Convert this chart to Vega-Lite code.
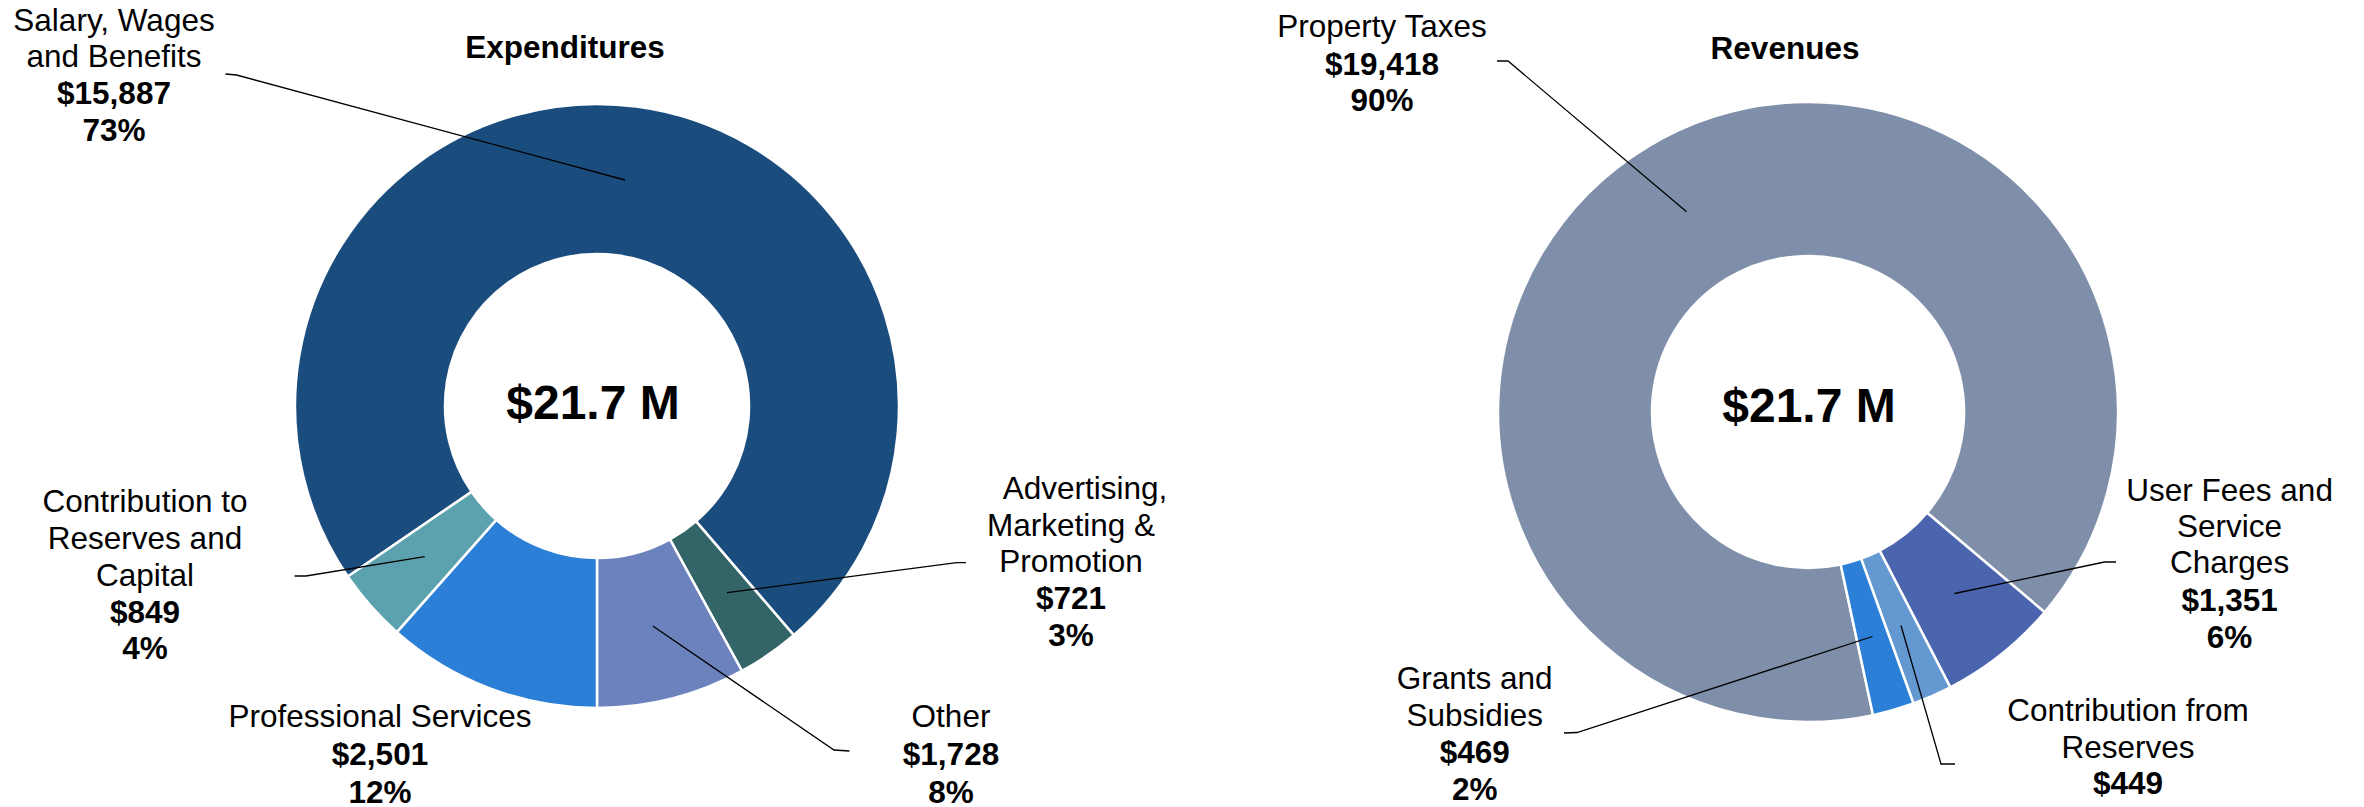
{
  "$schema": "https://vega.github.io/schema/vega-lite/v6.json",
  "background": "white",
  "padding": 0,
  "spacing": 0,
  "config": {"view": {"stroke": null}, "text": {"font": "Liberation Sans"}},
  "resolve": {"scale": {"color": "independent"}},
  "datasets": {
    "expenditures": [
      {"category": "Salary, Wages and Benefits", "amount": 15887, "seq": 1},
      {"category": "Advertising, Marketing & Promotion", "amount": 721, "seq": 2},
      {"category": "Other", "amount": 1728, "seq": 3},
      {"category": "Professional Services", "amount": 2501, "seq": 4},
      {"category": "Contribution to Reserves and Capital", "amount": 849, "seq": 5}
    ],
    "revenues": [
      {"category": "Property Taxes", "amount": 19418, "seq": 1},
      {"category": "User Fees and Service Charges", "amount": 1351, "seq": 2},
      {"category": "Contribution from Reserves", "amount": 449, "seq": 3},
      {"category": "Grants and Subsidies", "amount": 469, "seq": 4}
    ],
    "exp_labels": [
      {"text": "Expenditures", "kind": "title", "x": -32, "y": -357},
      {"text": "$21.7 M", "kind": "total", "x": -4, "y": -1},
      {"text": "Salary, Wages", "kind": "name", "x": -483, "y": -384},
      {"text": "and Benefits", "kind": "name", "x": -483, "y": -348.5},
      {"text": "$15,887", "kind": "value", "x": -483, "y": -310.6},
      {"text": "73%", "kind": "value", "x": -483, "y": -274},
      {"text": "Contribution to", "kind": "name", "x": -452, "y": 97},
      {"text": "Reserves and", "kind": "name", "x": -452, "y": 134},
      {"text": "Capital", "kind": "name", "x": -452, "y": 171},
      {"text": "$849", "kind": "value", "x": -452, "y": 207.5},
      {"text": "4%", "kind": "value", "x": -452, "y": 244},
      {"text": "Professional Services", "kind": "name", "x": -217, "y": 312},
      {"text": "$2,501", "kind": "value", "x": -217, "y": 350},
      {"text": "12%", "kind": "value", "x": -217, "y": 387.5},
      {"text": "Other", "kind": "name", "x": 354, "y": 312},
      {"text": "$1,728", "kind": "value", "x": 354, "y": 350},
      {"text": "8%", "kind": "value", "x": 354, "y": 387.5},
      {"text": "Advertising,", "kind": "name", "x": 488, "y": 84},
      {"text": "Marketing &", "kind": "name", "x": 474, "y": 120.7},
      {"text": "Promotion", "kind": "name", "x": 474, "y": 157.4},
      {"text": "$721", "kind": "value", "x": 474, "y": 194},
      {"text": "3%", "kind": "value", "x": 474, "y": 231}
    ],
    "exp_leaders": [
      {"leader": "Salary", "i": 1, "x": -371.6, "y": -332},
      {"leader": "Salary", "i": 2, "x": -360.4, "y": -331},
      {"leader": "Salary", "i": 3, "x": 28, "y": -226},
      {"leader": "Reserves", "i": 1, "x": -302.4, "y": 170},
      {"leader": "Reserves", "i": 2, "x": -291, "y": 170},
      {"leader": "Reserves", "i": 3, "x": -172.3, "y": 150.7},
      {"leader": "Other", "i": 1, "x": 55.8, "y": 220},
      {"leader": "Other", "i": 2, "x": 237, "y": 344},
      {"leader": "Other", "i": 3, "x": 252.5, "y": 345},
      {"leader": "Advertising", "i": 1, "x": 130, "y": 186.7},
      {"leader": "Advertising", "i": 2, "x": 359.6, "y": 156.7},
      {"leader": "Advertising", "i": 3, "x": 369, "y": 156.7}
    ],
    "rev_labels": [
      {"text": "Revenues", "kind": "title", "x": -23, "y": -362},
      {"text": "$21.7 M", "kind": "total", "x": 1, "y": -4},
      {"text": "Property Taxes", "kind": "name", "x": -426, "y": -384},
      {"text": "$19,418", "kind": "value", "x": -426, "y": -346.5},
      {"text": "90%", "kind": "value", "x": -426, "y": -310},
      {"text": "User Fees and", "kind": "name", "x": 421.6, "y": 80},
      {"text": "Service", "kind": "name", "x": 421.6, "y": 115.5},
      {"text": "Charges", "kind": "name", "x": 421.6, "y": 152},
      {"text": "$1,351", "kind": "value", "x": 421.6, "y": 189.5},
      {"text": "6%", "kind": "value", "x": 421.6, "y": 226.5},
      {"text": "Grants and", "kind": "name", "x": -333.3, "y": 268},
      {"text": "Subsidies", "kind": "name", "x": -333.3, "y": 305},
      {"text": "$469", "kind": "value", "x": -333.3, "y": 342},
      {"text": "2%", "kind": "value", "x": -333.3, "y": 379},
      {"text": "Contribution from", "kind": "name", "x": 320, "y": 300},
      {"text": "Reserves", "kind": "name", "x": 320, "y": 336.5},
      {"text": "$449", "kind": "value", "x": 320, "y": 373}
    ],
    "rev_leaders": [
      {"leader": "Property", "i": 1, "x": -311, "y": -351},
      {"leader": "Property", "i": 2, "x": -300, "y": -351},
      {"leader": "Property", "i": 3, "x": -121.4, "y": -200.2},
      {"leader": "UserFees", "i": 1, "x": 308, "y": 150},
      {"leader": "UserFees", "i": 2, "x": 296.5, "y": 150},
      {"leader": "UserFees", "i": 3, "x": 146.5, "y": 181.5},
      {"leader": "Grants", "i": 1, "x": -244, "y": 321},
      {"leader": "Grants", "i": 2, "x": -231, "y": 320.5},
      {"leader": "Grants", "i": 3, "x": 64.5, "y": 224.5},
      {"leader": "Reserves", "i": 1, "x": 93, "y": 213.5},
      {"leader": "Reserves", "i": 2, "x": 133, "y": 352},
      {"leader": "Reserves", "i": 3, "x": 147, "y": 352}
    ]
  },
  "hconcat": [
    {
      "width": 1182,
      "height": 807,
      "layer": [
        {
          "data": {"name": "expenditures"},
          "mark": {"type": "arc", "outerRadius": 302, "innerRadius": 152, "stroke": "white", "strokeWidth": 2.5},
          "encoding": {
            "x": {"datum": 0, "type": "quantitative", "scale": {"domain": [-597, 585], "nice": false, "zero": false}, "axis": null},
            "y": {"datum": 0, "type": "quantitative", "scale": {"domain": [-406, 401], "nice": false, "zero": false, "reverse": true}, "axis": null},
            "theta": {"field": "amount", "type": "quantitative", "stack": true, "scale": {"range": [-2.17098, 4.11221]}},
            "order": {"field": "seq", "type": "quantitative"},
            "color": {
              "field": "category", "type": "nominal", "legend": null,
              "scale": {
                "domain": ["Salary, Wages and Benefits", "Advertising, Marketing & Promotion", "Other", "Professional Services", "Contribution to Reserves and Capital"],
                "range": ["#1b4c7e", "#336468", "#6b82bd", "#2b7fd6", "#5ba2ae"]
              }
            }
          }
        },
        {
          "data": {"name": "exp_leaders"},
          "mark": {"type": "line", "color": "black", "strokeWidth": 1.3},
          "encoding": {
            "x": {"field": "x", "type": "quantitative", "scale": {"domain": [-597, 585], "nice": false, "zero": false}, "axis": null},
            "y": {"field": "y", "type": "quantitative", "scale": {"domain": [-406, 401], "nice": false, "zero": false, "reverse": true}, "axis": null},
            "detail": {"field": "leader", "type": "nominal"},
            "order": {"field": "i", "type": "quantitative"}
          }
        },
        {
          "data": {"name": "exp_labels"},
          "transform": [{"filter": "datum.kind === 'name'"}],
          "mark": {"type": "text", "font": "Liberation Sans", "fontSize": 31.5, "align": "center", "baseline": "middle", "color": "black"},
          "encoding": {
            "x": {"field": "x", "type": "quantitative", "scale": {"domain": [-597, 585], "nice": false, "zero": false}, "axis": null},
            "y": {"field": "y", "type": "quantitative", "scale": {"domain": [-406, 401], "nice": false, "zero": false, "reverse": true}, "axis": null},
            "text": {"field": "text", "type": "nominal"}
          }
        },
        {
          "data": {"name": "exp_labels"},
          "transform": [{"filter": "datum.kind === 'value' || datum.kind === 'title'"}],
          "mark": {"type": "text", "font": "Liberation Sans", "fontSize": 31.5, "fontWeight": "bold", "align": "center", "baseline": "middle", "color": "black"},
          "encoding": {
            "x": {"field": "x", "type": "quantitative", "scale": {"domain": [-597, 585], "nice": false, "zero": false}, "axis": null},
            "y": {"field": "y", "type": "quantitative", "scale": {"domain": [-406, 401], "nice": false, "zero": false, "reverse": true}, "axis": null},
            "text": {"field": "text", "type": "nominal"}
          }
        },
        {
          "data": {"name": "exp_labels"},
          "transform": [{"filter": "datum.kind === 'total'"}],
          "mark": {"type": "text", "font": "Liberation Sans", "fontSize": 48, "fontWeight": "bold", "align": "center", "baseline": "middle", "color": "black"},
          "encoding": {
            "x": {"field": "x", "type": "quantitative", "scale": {"domain": [-597, 585], "nice": false, "zero": false}, "axis": null},
            "y": {"field": "y", "type": "quantitative", "scale": {"domain": [-406, 401], "nice": false, "zero": false, "reverse": true}, "axis": null},
            "text": {"field": "text", "type": "nominal"}
          }
        }
      ]
    },
    {
      "width": 1182,
      "height": 807,
      "layer": [
        {
          "data": {"name": "revenues"},
          "mark": {"type": "arc", "outerRadius": 310, "innerRadius": 156, "stroke": "white", "strokeWidth": 2.5},
          "encoding": {
            "x": {"datum": 0, "type": "quantitative", "scale": {"domain": [-626, 556], "nice": false, "zero": false}, "axis": null},
            "y": {"datum": 0, "type": "quantitative", "scale": {"domain": [-412, 395], "nice": false, "zero": false, "reverse": true}, "axis": null},
            "theta": {"field": "amount", "type": "quantitative", "stack": true, "scale": {"range": [2.9304, 9.2136]}},
            "order": {"field": "seq", "type": "quantitative"},
            "color": {
              "field": "category", "type": "nominal", "legend": null,
              "scale": {
                "domain": ["Property Taxes", "User Fees and Service Charges", "Contribution from Reserves", "Grants and Subsidies"],
                "range": ["#7f8fa9", "#4a65ae", "#6399d0", "#2b7fd6"]
              }
            }
          }
        },
        {
          "data": {"name": "rev_leaders"},
          "mark": {"type": "line", "color": "black", "strokeWidth": 1.3},
          "encoding": {
            "x": {"field": "x", "type": "quantitative", "scale": {"domain": [-626, 556], "nice": false, "zero": false}, "axis": null},
            "y": {"field": "y", "type": "quantitative", "scale": {"domain": [-412, 395], "nice": false, "zero": false, "reverse": true}, "axis": null},
            "detail": {"field": "leader", "type": "nominal"},
            "order": {"field": "i", "type": "quantitative"}
          }
        },
        {
          "data": {"name": "rev_labels"},
          "transform": [{"filter": "datum.kind === 'name'"}],
          "mark": {"type": "text", "font": "Liberation Sans", "fontSize": 31.5, "align": "center", "baseline": "middle", "color": "black"},
          "encoding": {
            "x": {"field": "x", "type": "quantitative", "scale": {"domain": [-626, 556], "nice": false, "zero": false}, "axis": null},
            "y": {"field": "y", "type": "quantitative", "scale": {"domain": [-412, 395], "nice": false, "zero": false, "reverse": true}, "axis": null},
            "text": {"field": "text", "type": "nominal"}
          }
        },
        {
          "data": {"name": "rev_labels"},
          "transform": [{"filter": "datum.kind === 'value' || datum.kind === 'title'"}],
          "mark": {"type": "text", "font": "Liberation Sans", "fontSize": 31.5, "fontWeight": "bold", "align": "center", "baseline": "middle", "color": "black"},
          "encoding": {
            "x": {"field": "x", "type": "quantitative", "scale": {"domain": [-626, 556], "nice": false, "zero": false}, "axis": null},
            "y": {"field": "y", "type": "quantitative", "scale": {"domain": [-412, 395], "nice": false, "zero": false, "reverse": true}, "axis": null},
            "text": {"field": "text", "type": "nominal"}
          }
        },
        {
          "data": {"name": "rev_labels"},
          "transform": [{"filter": "datum.kind === 'total'"}],
          "mark": {"type": "text", "font": "Liberation Sans", "fontSize": 48, "fontWeight": "bold", "align": "center", "baseline": "middle", "color": "black"},
          "encoding": {
            "x": {"field": "x", "type": "quantitative", "scale": {"domain": [-626, 556], "nice": false, "zero": false}, "axis": null},
            "y": {"field": "y", "type": "quantitative", "scale": {"domain": [-412, 395], "nice": false, "zero": false, "reverse": true}, "axis": null},
            "text": {"field": "text", "type": "nominal"}
          }
        }
      ]
    }
  ]
}
